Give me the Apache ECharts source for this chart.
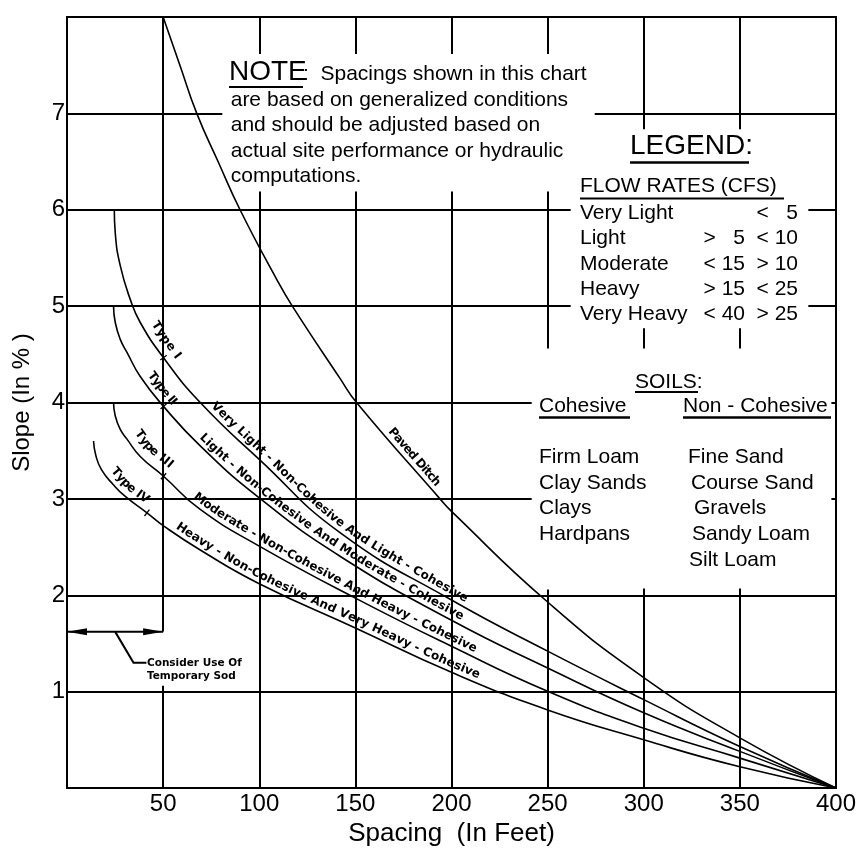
<!DOCTYPE html>
<html>
<head>
<meta charset="utf-8">
<title>Slope vs Spacing</title>
<style>
  html, body { margin: 0; padding: 0; background: #fff; }
  #chart { width: 866px; height: 853px; }
</style>
</head>
<body>
<div id="chart"></div>
<script src="https://cdn.jsdelivr.net/npm/echarts@6/dist/echarts.min.js"></script>
<script>
// curves: [spacing ft, slope %]
var pavedDitch = [[50, 8], [58.9, 7.49], [67.5, 7], [78.8, 6.49], [90, 6], [109, 5.28], [117.2, 5], [142, 4.25], [150.6, 4], [194, 3], [200, 2.87], [250, 1.93], [300, 1.145], [350, 0.52], [400, 0]];
var typeI = [[24.6, 6], [25.1, 5.76], [27.7, 5.42], [32.9, 5.07], [38.1, 4.83], [50.2, 4.465], [69.3, 4], [100, 3.41], [142, 2.65], [200, 1.95], [250, 1.42], [300, 0.917], [350, 0.43], [400, 0]];
var typeII = [[24.2, 5], [25.1, 4.83], [27.7, 4.655], [31.2, 4.52], [38.1, 4.27], [50.2, 3.96], [69.3, 3.55], [100, 3.01], [142, 2.405], [200, 1.74], [250, 1.245], [300, 0.78], [350, 0.38], [400, 0]];
var typeIII = [[24.2, 4], [25.1, 3.86], [27.7, 3.72], [31.2, 3.62], [38.1, 3.44], [50.2, 3.235], [69.3, 2.89], [100, 2.51], [150, 1.97], [200, 1.47], [250, 1.003], [300, 0.62], [350, 0.31], [400, 0]];
var typeIV = [[13.8, 3.6], [15, 3.45], [18, 3.3], [24, 3.15], [30, 3.03], [41.6, 2.855], [50.2, 2.72], [69.3, 2.47], [100, 2.12], [150, 1.66], [200, 1.2], [250, 0.81], [300, 0.5], [350, 0.22], [400, 0]];

var curves = [pavedDitch, typeI, typeII, typeIII, typeIV];

// texts written along the curves
var curveTexts = ['Paved Ditch', 'Type I', 'Type II', 'Type III', 'Type IV',
    'Very Light - Non-Cohesive And Light - Cohesive',
    'Light - Non-Cohesive And Moderate - Cohesive',
    'Moderate - Non-Cohesive And Heavy - Cohesive',
    'Heavy - Non-Cohesive And Very Heavy - Cohesive'];

var noteLines = ['are based on generalized conditions', 'and should be adjusted based on',
    'actual site performance or hydraulic', 'computations.'];
var flowNames = ['Very Light', 'Light', 'Moderate', 'Heavy', 'Very Heavy'];
var flowLow = ['', '>   5', '< 15', '> 15', '< 40'];
var flowHigh = ['<   5', '< 10', '> 10', '< 25', '> 25'];
var cohesive = ['Firm Loam', 'Clay Sands', 'Clays', 'Hardpans'];
var nonCohesive = ['Fine Sand', 'Course Sand', 'Gravels', 'Sandy Loam', 'Silt Loam'];

var FONT = '"Liberation Sans", Arial, sans-serif';
var LABEL_FONT = 'bold 12px "DejaVu Sans", sans-serif';

// where each along-curve text sits (curve index, from x, to x, offset px)
var textPlaces = [
    [0, 165, 190, 8], [1, 40, 53, 12], [2, 39, 52, 10], [3, 31, 50, 13], [4, 20, 39, 10],
    [1, 73, 206, 8], [2, 67, 204, 8], [3, 64, 211, 8], [4, 55, 213, 8]
];
// little ticks on the type curves
var ticks = [[1, 50.2], [2, 50.2], [3, 50.2], [4, 41.6]];

// grid lines with the gaps left for the notes
var hLines = [
    [1, [[0, 400]]], [2, [[0, 400]]],
    [3, [[0, 241.7], [397.6, 400]]], [4, [[0, 241.7], [397.6, 400]]],
    [5, [[0, 262], [385.6, 400]]], [6, [[0, 262], [385.6, 400]]],
    [7, [[0, 80.8], [274.5, 400]]]
];
var vLines = [
    [50, [[0, 1.062], [1.623, 8]]],
    [100, [[0, 6.19], [7.615, 8]]], [150, [[0, 6.19], [7.615, 8]]], [200, [[0, 6.19], [7.615, 8]]],
    [250, [[0, 2.06], [4.56, 6.19], [7.615, 8]]],
    [300, [[0, 2.07], [4.56, 4.77], [6.836, 8]]], [350, [[0, 2.07], [4.56, 4.77], [6.836, 8]]]
];

var gridSegs = [];
hLines.forEach(function (h) {
    h[1].forEach(function (s) { gridSegs.push({coords: [[s[0], h[0]], [s[1], h[0]]]}); });
});
vLines.forEach(function (v) {
    v[1].forEach(function (s) { gridSegs.push({coords: [[v[0], s[0]], [v[0], s[1]]]}); });
});

var measureCtx = document.createElement('canvas').getContext('2d');
measureCtx.font = LABEL_FONT;

// pixel path helper (catmull-rom through the read points) for placing text
function makePath(pts) {
    var d = [];
    for (var i = 0; i < pts.length - 1; i++) {
        var p0 = pts[Math.max(i - 1, 0)], p1 = pts[i], p2 = pts[i + 1], p3 = pts[Math.min(i + 2, pts.length - 1)];
        for (var k = 0; k < 16; k++) {
            var t = k / 16, t2 = t * t, t3 = t2 * t;
            var q = [0, 1].map(function (j) {
                return 0.5 * (2 * p1[j] + (-p0[j] + p2[j]) * t + (2 * p0[j] - 5 * p1[j] + 4 * p2[j] - p3[j]) * t2 + (-p0[j] + 3 * p1[j] - 3 * p2[j] + p3[j]) * t3);
            });
            d.push(q);
        }
    }
    d.push(pts[pts.length - 1]);
    var s = [0];
    for (var m = 1; m < d.length; m++) {
        s.push(s[m - 1] + Math.hypot(d[m][0] - d[m - 1][0], d[m][1] - d[m - 1][1]));
    }
    function at(len) {
        for (var n = 1; n < d.length; n++) {
            if (s[n] >= len) {
                var f = (len - s[n - 1]) / ((s[n] - s[n - 1]) || 1);
                return [d[n - 1][0] + f * (d[n][0] - d[n - 1][0]), d[n - 1][1] + f * (d[n][1] - d[n - 1][1])];
            }
        }
        return d[d.length - 1];
    }
    return {
        at: function (len) {
            var p = at(len), a = at(len - 6), b = at(len + 6);
            return {x: p[0], y: p[1], a: Math.atan2(b[1] - a[1], b[0] - a[0])};
        },
        sAtX: function (px) {
            for (var n = 1; n < d.length; n++) {
                if (d[n][0] >= px) {
                    var f = (px - d[n - 1][0]) / ((d[n][0] - d[n - 1][0]) || 1);
                    return s[n - 1] + f * (s[n] - s[n - 1]);
                }
            }
            return s[s.length - 1];
        }
    };
}

function renderAnno(params, api) {
    var paths = curves.map(function (c) {
        return makePath(c.map(function (p) { return api.coord(p); }));
    });
    var kids = [];
    textPlaces.forEach(function (tp, i) {
        var path = paths[tp[0]];
        var s0 = path.sAtX(api.coord([tp[1], 0])[0]);
        var s1 = path.sAtX(api.coord([tp[2], 0])[0]);
        var chars = curveTexts[i].split('');
        var w = chars.map(function (c) { return measureCtx.measureText(c).width; });
        var total = w.reduce(function (a, b) { return a + b; }, 0);
        var gap = (s1 - s0 - total) / (chars.length - 1);
        var s = s0;
        chars.forEach(function (ch, j) {
            var p = path.at(s + w[j] / 2);
            kids.push({
                type: 'text', x: p.x + Math.sin(p.a) * tp[3], y: p.y - Math.cos(p.a) * tp[3], rotation: -p.a,
                style: {text: ch, font: LABEL_FONT, fill: '#000', align: 'center', verticalAlign: 'middle'}
            });
            s += w[j] + gap;
        });
    });
    ticks.forEach(function (t) {
        var path = paths[t[0]];
        var p = path.at(path.sAtX(api.coord([t[1], 0])[0]));
        var nx = Math.sin(p.a) * 4, ny = -Math.cos(p.a) * 4;
        kids.push({type: 'line', shape: {x1: p.x - nx, y1: p.y - ny, x2: p.x + nx, y2: p.y + ny},
            style: {stroke: '#000', lineWidth: 1.3}});
    });
    // temporary sod arrow
    var a = api.coord([0, 1.62]), b = api.coord([50, 1.62]);
    kids.push({type: 'line', shape: {x1: a[0], y1: a[1], x2: b[0], y2: b[1]}, style: {stroke: '#000', lineWidth: 2}});
    kids.push({type: 'polygon', shape: {points: [[a[0], a[1]], [a[0] + 20, a[1] - 3.5], [a[0] + 20, a[1] + 3.5]]}, style: {fill: '#000'}});
    kids.push({type: 'polygon', shape: {points: [[b[0], b[1]], [b[0] - 20, b[1] - 3.5], [b[0] - 20, b[1] + 3.5]]}, style: {fill: '#000'}});
    var l1 = api.coord([25.1, 1.62]), l2 = api.coord([34.6, 1.3]), l3 = api.coord([41.3, 1.3]);
    kids.push({type: 'polyline', shape: {points: [l1, l2, l3]}, style: {stroke: '#000', lineWidth: 2, fill: null}});
    var tp = api.coord([41.6, 1.3]);
    kids.push({type: 'text', x: tp[0], y: tp[1] + 7, style: {text: 'Consider Use Of\nTemporary Sod', font: 'bold 10.5px "DejaVu Sans", sans-serif',
        fill: '#000', align: 'left', verticalAlign: 'middle', lineHeight: 13}});
    return {type: 'group', children: kids};
}

function txt(x, y, s, size, align) {
    return {type: 'text', x: x, y: y, z: 100,
        style: {text: s, font: size + 'px ' + FONT, fill: '#000', align: align || 'left', verticalAlign: 'middle'}};
}
function uline(x1, x2, y, w) {
    return {type: 'line', z: 100, shape: {x1: x1, y1: y, x2: x2, y2: y}, style: {stroke: '#000', lineWidth: w || 2}};
}

var graphics = [
    txt(229, 72, 'NOTE', 28), uline(229, 303, 87, 2),
    txt(303, 74.5, ':  Spacings shown in this chart', 21),
    txt(630, 146.5, 'LEGEND:', 28), uline(630, 749, 162.5, 2.5),
    txt(580, 186.7, 'FLOW RATES (CFS)', 21), uline(580, 784, 198.5, 2),
    txt(635, 382, 'SOILS:', 21), uline(635, 698, 392, 2),
    txt(539, 406.3, 'Cohesive', 21), uline(539, 630, 417.5, 2.5),
    txt(683, 406.3, 'Non - Cohesive', 21), uline(683, 831, 417.5, 2.5)
];
noteLines.forEach(function (l, i) { graphics.push(txt(230.7, 100.5 + i * 25.2, l, 21)); });
flowNames.forEach(function (l, i) {
    var y = 213 + i * 25.4;
    graphics.push(txt(580, y, l, 21));
    if (flowLow[i]) graphics.push(txt(745, y, flowLow[i], 21, 'right'));
    graphics.push(txt(798, y, flowHigh[i], 21, 'right'));
});
var nonLeft = [688, 691, 694, 692, 689];
cohesive.forEach(function (l, i) { graphics.push(txt(539, 457.3 + i * 25.7, l, 21)); });
nonCohesive.forEach(function (l, i) { graphics.push(txt(nonLeft[i], 457.3 + i * 25.7, l, 21)); });

var chart = echarts.init(document.getElementById('chart'));
var lineStyle = {color: '#000', width: 1.6};
chart.setOption({
    animation: false,
    backgroundColor: '#fff',
    grid: {left: 67, right: 30, top: 17, bottom: 65, show: true, borderColor: '#000', borderWidth: 2,
        containLabel: false, outerBoundsMode: 'none'},
    xAxis: {
        type: 'value', min: 0, max: 400, interval: 50,
        axisLine: {show: false}, axisTick: {show: false}, splitLine: {show: false},
        axisLabel: {color: '#000', fontSize: 24, fontFamily: FONT, margin: 4,
            formatter: function (v) { return v === 0 ? '' : v; }},
        name: 'Spacing  (In Feet)', nameLocation: 'middle', nameGap: 27,
        nameTextStyle: {color: '#000', fontSize: 26, fontFamily: FONT, verticalAlign: 'top'}
    },
    yAxis: {
        type: 'value', min: 0, max: 8, interval: 1,
        axisLine: {show: false}, axisTick: {show: false}, splitLine: {show: false},
        axisLabel: {color: '#000', fontSize: 24, fontFamily: FONT, margin: 2,
            formatter: function (v) { return v === 0 || v === 8 ? '' : v; }},
        name: 'Slope (In % )', nameLocation: 'middle', nameGap: 33, nameRotate: 90,
        nameTextStyle: {color: '#000', fontSize: 24, fontFamily: FONT}
    },
    graphic: graphics,
    series: [
        {type: 'lines', coordinateSystem: 'cartesian2d', silent: true, z: 1,
            lineStyle: {color: '#000', width: 2, opacity: 1, curveness: 0}, data: gridSegs},
        {type: 'line', data: pavedDitch, showSymbol: false, smooth: 0.5, lineStyle: lineStyle, z: 3},
        {type: 'line', data: typeI, showSymbol: false, smooth: 0.5, lineStyle: lineStyle, z: 3},
        {type: 'line', data: typeII, showSymbol: false, smooth: 0.5, lineStyle: lineStyle, z: 3},
        {type: 'line', data: typeIII, showSymbol: false, smooth: 0.5, lineStyle: lineStyle, z: 3},
        {type: 'line', data: typeIV, showSymbol: false, smooth: 0.5, lineStyle: lineStyle, z: 3},
        {type: 'custom', renderItem: renderAnno, data: [[0, 0]], silent: true, z: 4, clip: false}
    ]
});
</script>
</body>
</html>
